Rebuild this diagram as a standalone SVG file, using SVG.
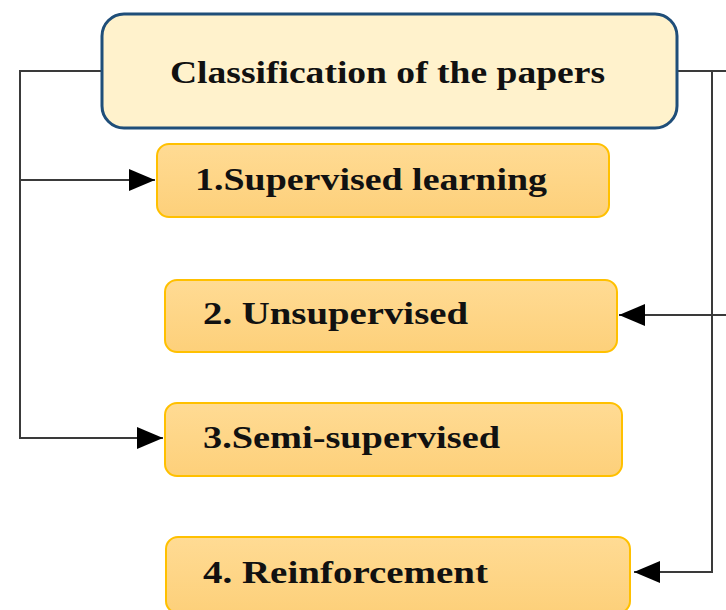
<svg xmlns="http://www.w3.org/2000/svg" width="726" height="610" viewBox="0 0 726 610">
  <defs>
    <linearGradient id="itemFill" x1="0" y1="0" x2="0" y2="1">
      <stop offset="0" stop-color="#ffdb94"/>
      <stop offset="1" stop-color="#fdd07a"/>
    </linearGradient>
    <marker id="arrow" viewBox="0 0 26 22" refX="26" refY="11" markerWidth="26" markerHeight="22" markerUnits="userSpaceOnUse" orient="auto">
      <path d="M0,0 L26,11 L0,22 Z" fill="#000"/>
    </marker>
  </defs>
  <style>
    .root { fill: #fff2cc; stroke: #1f4e79; stroke-width: 3; }
    .item { fill: url(#itemFill); stroke: #ffc000; stroke-width: 2; }
    .label { font-family: "Liberation Serif", "Times New Roman", serif; font-weight: bold; font-size: 31px; fill: #111; }
    .wire { fill: none; stroke: #3a3a3a; stroke-width: 2; }
  </style>
  <rect width="726" height="610" fill="#fff"/>

  <g id="connectors">
    <path class="wire" d="M102,71 H20 V438 H163" marker-end="url(#arrow)"/>
    <path class="wire" d="M20,180 H155" marker-end="url(#arrow)"/>
    <path class="wire" d="M677,71 H726"/>
    <path class="wire" d="M712,71 V572 H634" marker-end="url(#arrow)"/>
    <path class="wire" d="M726,315 H619" marker-end="url(#arrow)"/>
  </g>

  <g id="root">
    <rect class="root" x="102" y="14" width="575" height="114" rx="22"/>
    <text class="label" x="170" y="83" textLength="435" lengthAdjust="spacingAndGlyphs">Classification of the papers</text>
  </g>
  <g id="supervised">
    <rect class="item" x="157" y="144" width="452" height="73" rx="12"/>
    <text class="label" x="195" y="190" textLength="352" lengthAdjust="spacingAndGlyphs">1.Supervised learning</text>
  </g>
  <g id="unsupervised">
    <rect class="item" x="165" y="280" width="452" height="72" rx="12"/>
    <text class="label" x="203" y="324" textLength="265" lengthAdjust="spacingAndGlyphs">2. Unsupervised</text>
  </g>
  <g id="semi-supervised">
    <rect class="item" x="165" y="403" width="457" height="73" rx="12"/>
    <text class="label" x="203" y="448" textLength="297" lengthAdjust="spacingAndGlyphs">3.Semi-supervised</text>
  </g>
  <g id="reinforcement">
    <rect class="item" x="166" y="537" width="464" height="76" rx="12"/>
    <text class="label" x="203" y="583" textLength="285" lengthAdjust="spacingAndGlyphs">4. Reinforcement</text>
  </g>
</svg>
